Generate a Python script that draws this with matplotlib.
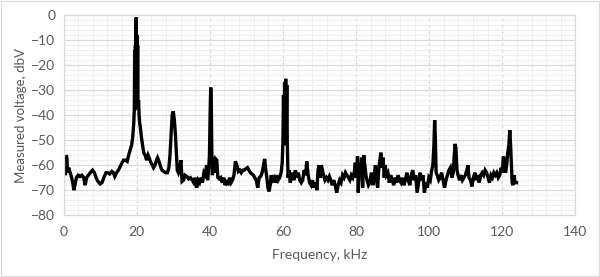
import matplotlib
matplotlib.use("Agg")
import matplotlib.pyplot as plt
from matplotlib.patches import Rectangle
from matplotlib.ticker import MultipleLocator

# spectrum, kHz / dbV
freq_khz = [
    0.0, 0.3, 0.5, 0.7, 0.9, 1.1, 1.4, 1.8, 2.2, 2.5, 2.8, 3.1, 3.5, 4.0, 4.5,
    5.0, 5.5, 5.9, 6.3, 6.8, 7.3, 7.9, 8.4, 8.9, 9.4, 10.0, 10.5, 11.0, 11.6,
    12.1, 12.6, 13.2, 13.6, 14.0, 14.5, 15.0, 15.5, 16.0, 16.4, 16.9, 17.4,
    17.8, 18.2, 18.6, 18.9, 19.2, 19.35, 19.45, 19.55, 19.65, 19.75, 19.85,
    19.95, 20.05, 20.15, 20.25, 20.35, 20.5, 20.65, 20.8, 21.0, 21.3, 21.6,
    21.9, 22.3, 22.7, 23.1, 23.5,
    23.9, 24.3, 24.6, 25.0, 25.4, 25.7, 26.1, 26.5, 26.9, 27.4, 27.9, 28.4,
    28.8, 29.1, 29.4, 29.7, 30.0, 30.3, 30.6, 30.9, 31.1, 31.4, 31.8, 32.1,
    32.4, 32.8, 33.2, 33.7, 34.2, 34.7, 35.2, 35.6, 36.0, 36.4, 36.8, 37.2,
    37.6, 38.0, 38.4, 38.8, 39.1, 39.4, 39.7, 39.9, 40.1, 40.25, 40.4, 40.55,
    40.7, 41.0, 41.3, 41.6, 41.9, 42.2, 42.6, 43.0, 43.4, 43.8, 44.2, 44.6,
    45.0, 45.4, 45.8, 46.2, 46.6, 47.0, 47.4, 47.8, 48.2, 48.6, 49.0, 49.4,
    49.8, 50.3, 50.7, 51.1, 51.5, 51.9, 52.3, 52.7, 53.1, 53.5, 53.9, 54.3,
    54.7, 55.0, 55.3, 55.6, 55.9, 56.2, 56.5, 56.8, 57.1, 57.5, 57.9, 58.3,
    58.7, 59.1, 59.5, 59.8, 60.0, 60.15, 60.3, 60.45, 60.6, 60.75, 60.9,
    61.05, 61.2, 61.4,
    61.7, 62.0, 62.3, 62.6, 63.0, 63.4, 63.8, 64.2, 64.6, 65.0, 65.4,
    65.8, 66.2, 66.5, 66.9, 67.3, 67.7, 68.1, 68.5, 68.9, 69.3, 69.6, 69.9,
    70.2, 70.5, 70.8, 71.1, 71.5, 71.9, 72.3, 72.7, 73.1, 73.5, 73.9, 74.3,
    74.7, 75.1, 75.5, 75.9, 76.3, 76.7, 77.1, 77.5, 77.9, 78.3, 78.7, 79.1,
    79.5, 79.8, 80.1, 80.4, 80.6, 80.9, 81.2, 81.5, 81.8, 82.1, 82.4, 82.7,
    83.0, 83.4, 83.8, 84.2, 84.6, 84.9, 85.3, 85.6, 85.9, 86.2, 86.5, 86.8,
    87.1, 87.4, 87.7, 88.0, 88.3, 88.7, 89.1, 89.5, 89.9, 90.3, 90.7, 91.1,
    91.5, 91.9, 92.3, 92.7, 93.1, 93.5, 93.9, 94.3, 94.7, 95.1, 95.5, 95.9,
    96.3, 96.7, 97.1, 97.5, 97.9, 98.3, 98.7, 99.1, 99.5, 99.9, 100.3, 100.7,
    101.0, 101.3, 101.5, 101.7, 101.9, 102.2, 102.6, 103.0, 103.4, 103.8,
    104.2, 104.6, 105.0, 105.4, 105.8, 106.2, 106.6, 106.9, 107.1, 107.3,
    107.6, 107.9, 108.3, 108.7, 109.1, 109.5, 109.9, 110.3, 110.6, 110.9,
    111.3, 111.7, 112.1, 112.5, 112.9, 113.3, 113.7, 114.1, 114.5, 114.9,
    115.3, 115.7, 116.1, 116.5, 116.9, 117.3, 117.7, 118.1, 118.5, 118.9,
    119.3, 119.7, 120.0, 120.3, 120.6, 120.9, 121.2, 121.5, 121.8, 122.05,
    122.3, 122.5, 122.7, 122.9, 123.2, 123.5, 123.9,
]
voltage_dbv = [
    -63, -60, -64, -56, -57, -63, -61, -63, -65, -67, -70, -68, -65, -64, -64.5,
    -64, -65, -68, -65, -64, -63, -62, -63, -65, -66.5, -67.5, -67, -65, -63,
    -63, -63.5, -62.5, -63, -64.5, -63, -62, -60.5, -59, -58, -58, -58.5,
    -56, -54, -52, -49, -43, -37, -14, -38, -12, -36,
    -1, -33, -8, -35, -12, -37, -34, -40, -43, -45, -49, -52,
    -55, -56, -58, -56, -57.5,
    -59, -60, -61, -60, -58, -57, -58.5, -60.5, -62, -62.5, -63, -63,
    -61, -56, -48, -40, -38.5, -42, -48, -56, -62, -63, -61, -58,
    -66.5, -66, -64, -64.5, -65.5, -65, -66, -67, -65, -69, -66, -67,
    -65, -67, -63, -64, -60, -66, -61, -56, -38, -29, -36, -55,
    -64, -57, -63, -57.5, -58, -65, -65.5, -65, -67, -65, -68, -66,
    -68, -65, -67, -66, -64, -58.5, -60, -62.5, -62, -63, -62, -62,
    -61.5, -61, -62, -63, -63.5, -64, -65, -66, -69, -65, -64.5, -63,
    -60, -57.5, -62, -65, -69, -70.5, -68, -64, -66, -65, -67, -64,
    -66, -65, -63, -59, -50, -32, -52, -27, -50, -25.5, -48,
    -28, -52,
    -65, -62, -67, -65, -63, -66, -62, -65, -63, -66, -67, -66,
    -62, -64, -58.5, -64, -67, -68, -66, -69, -67, -70, -62, -60,
    -65, -60, -62, -64, -66, -65, -66, -64.5, -66, -68, -66, -68,
    -71, -68, -66, -67, -64, -65, -63, -64, -65, -66, -64, -65,
    -63, -59, -65, -56.5, -71, -60, -62, -57, -69, -56, -60, -64,
    -66, -68, -67, -63, -68, -65, -60, -66, -69, -62, -58, -55,
    -61, -57, -65, -60, -64, -63, -67, -64, -66, -68, -65, -67,
    -64, -66, -67, -65, -68, -66, -63, -66, -68, -64, -62, -66,
    -64, -71, -67, -63, -66, -64, -71, -67, -69, -65, -66, -62,
    -60, -52, -42, -50, -63, -64, -66, -65, -63, -66,
    -69, -66, -64, -62, -61, -65, -63, -55, -51.5, -53,
    -62, -64, -66, -64, -66, -65, -64, -62, -60, -65,
    -66, -68.5, -65, -63, -66, -64, -67, -64, -63, -64,
    -62, -63, -65, -67, -64, -65, -63, -64, -63, -65,
    -64, -61, -63, -56.5, -58, -63, -60, -55, -52, -46,
    -53, -60, -67, -68, -64, -67, -67,
]

x_label = "Frequency, kHz"
y_label = "Measured voltage, dbV"

TEXT = "#595959"
MAJOR = "#d9d9d9"
MINOR = "#efefef"

plt.rcParams["font.family"] = ["Lato", "DejaVu Sans"]

fig = plt.figure(figsize=(6.0, 2.77), dpi=100)
ax = fig.add_axes([0.106, 0.223, 0.853, 0.723])

ax.plot(freq_khz, voltage_dbv, color="black", lw=2.4, solid_joinstyle="miter")

ax.set_xlim(0, 140)
ax.set_ylim(-80, 0)
ax.xaxis.set_major_locator(MultipleLocator(20))
ax.xaxis.set_minor_locator(MultipleLocator(4))
ax.yaxis.set_major_locator(MultipleLocator(10))
ax.yaxis.set_minor_locator(MultipleLocator(2))

ax.grid(which="minor", axis="both", color=MINOR, lw=0.8)
ax.grid(which="major", axis="y", color=MAJOR, lw=0.9)
ax.grid(which="major", axis="x", color=MAJOR, lw=0.9, ls=(0, (3, 2)))
ax.set_axisbelow(True)

ax.tick_params(which="both", length=0, colors=TEXT, labelsize=10)
ax.tick_params(axis="x", pad=8)
ax.tick_params(axis="y", pad=6)
for s in ax.spines.values():
    s.set_color(MAJOR)
    s.set_linewidth(0.9)

ax.set_xlabel(x_label, color=TEXT, fontsize=10, labelpad=8)
ax.set_ylabel(y_label, color=TEXT, fontsize=9.5, labelpad=3)

fig.patches.append(Rectangle((0.001, 0.002), 0.997, 0.995, transform=fig.transFigure,
                             fill=False, ec=MAJOR, lw=0.8))

fig.savefig("out.png", dpi=100)
